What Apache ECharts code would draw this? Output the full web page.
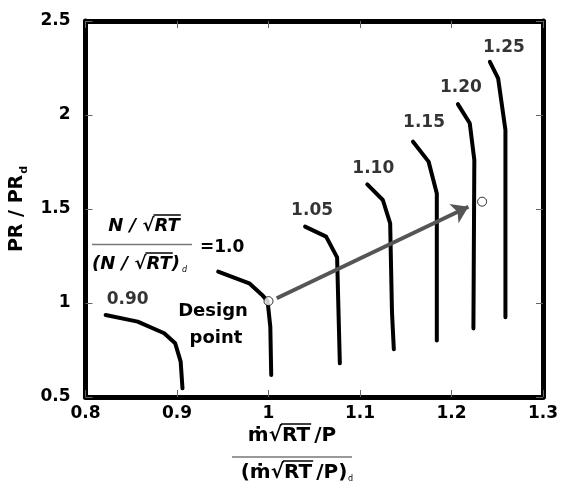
<!DOCTYPE html>
<html>
<head>
<meta charset="utf-8">
<script src="https://cdn.jsdelivr.net/npm/echarts@6/dist/echarts.min.js"></script>
<style>
  html, body { margin: 0; padding: 0; background: #fff; }
  #main { width: 561px; height: 494px; }
</style>
</head>
<body>
<div id="main"></div>
<script>
// compressor map: corrected speed lines
var FONT = '"DejaVu Sans", sans-serif';

var speedNames = ['0.90', '1.0', '1.05', '1.10', '1.15', '1.20', '1.25'];

var speed090X = [0.822, 0.857, 0.886, 0.898, 0.904, 0.906];
var speed090Y = [0.936, 0.901, 0.839, 0.786, 0.688, 0.546];
var speed100X = [0.945, 0.979, 0.993, 0.999, 1.002, 1.003];
var speed100Y = [1.167, 1.105, 1.043, 1.010, 0.874, 0.617];
var speed105X = [1.040, 1.063, 1.075, 1.078];
var speed105Y = [1.406, 1.353, 1.243, 0.679];
var speed110X = [1.108, 1.125, 1.133, 1.135, 1.137];
var speed110Y = [1.631, 1.548, 1.424, 0.950, 0.754];
var speed115X = [1.158, 1.175, 1.184, 1.184];
var speed115Y = [1.858, 1.752, 1.583, 0.800];
var speed120X = [1.207, 1.220, 1.225, 1.224];
var speed120Y = [2.058, 1.956, 1.761, 0.865];
var speed125X = [1.242, 1.251, 1.259, 1.259];
var speed125Y = [2.283, 2.195, 1.920, 0.924];

var designPoint = [1.0, 1.01];
var newPoint = [1.2335, 1.539];
var arrowFrom = [1.009, 1.025];
var arrowTo = [1.2185, 1.512];

var xTicks = [0.8, 0.9, 1, 1.1, 1.2, 1.3];
var yTicks = [0.5, 1, 1.5, 2, 2.5];

var curvesX = [speed090X, speed100X, speed105X, speed110X, speed115X, speed120X, speed125X];
var curvesY = [speed090Y, speed100Y, speed105Y, speed110Y, speed115Y, speed120Y, speed125Y];
// label offset (px) from the top end of each line; 1.0 gets the formula instead
var labelOffsets = [[22, -15], null, [7, -16], [6, -16], [11, -19], [3, -17], [14, -14]];

var myChart = echarts.init(document.getElementById('main'));

var seriesArr = [];
curvesX.forEach(function (xs, i) {
  seriesArr.push({
    name: speedNames[i],
    type: 'line',
    data: xs.map(function (x, j) { return [x, curvesY[i][j]]; }),
    showSymbol: false,
    symbol: 'none',
    lineStyle: { color: '#000', width: 4, cap: 'round', join: 'round' },
    silent: true,
    z: 3
  });
});

var labelData = [];
curvesX.forEach(function (xs, i) {
  if (!labelOffsets[i]) return;
  labelData.push({
    value: [xs[0], curvesY[i][0]],
    label: {
      show: true, position: 'inside', offset: labelOffsets[i],
      formatter: speedNames[i],
      color: '#000', textBorderWidth: 0,
      fontFamily: FONT, fontWeight: 'bold', fontSize: 17
    }
  });
});
seriesArr.push({ type: 'scatter', symbolSize: 0, data: labelData, silent: true, z: 4 });

seriesArr.push({
  type: 'lines',
  coordinateSystem: 'cartesian2d',
  data: [{ coords: [arrowFrom, arrowTo] }],
  symbol: ['none', 'arrow'],
  symbolSize: [0, 16],
  lineStyle: { color: '#555', width: 4, opacity: 1 },
  silent: true,
  z: 5
});

seriesArr.push({
  type: 'scatter',
  data: [designPoint, newPoint],
  symbol: 'circle',
  symbolSize: 9,
  itemStyle: { color: '#fff', borderColor: '#000', borderWidth: 1 },
  silent: true,
  z: 6
});

// text width helper for placing the radical bars
var ctx = document.createElement('canvas').getContext('2d');
function textW(s, font) { ctx.font = font; return ctx.measureText(s).width; }

// centered fraction term: draws text and the bar over the radicand
function radicalText(cx, cy, before, rad, after, font, barDy) {
  var w = textW(before + rad + after, font);
  var x0 = cx - w / 2;
  var xa = x0 + textW(before, font);
  var xb = x0 + textW(before + rad, font);
  return [
    { type: 'text', x: x0, y: cy, style: { text: before + rad + after, font: font, fill: '#000', textAlign: 'left', textVerticalAlign: 'middle' } },
    { type: 'line', shape: { x1: xa - 1, y1: cy - barDy, x2: xb + 1, y2: cy - barDy }, style: { stroke: '#000', lineWidth: 1.5 } }
  ];
}

var fN = 'italic bold 18px ' + FONT;
var fM = 'bold 20px ' + FONT;
var gfx = [];
// speed line 1.0 label: (N/sqrt(RT)) / (N/sqrt(RT))_d = 1.0
gfx = gfx.concat(radicalText(144, 226, 'N / \u221A', 'RT', '', fN, 11));
gfx.push({ type: 'line', shape: { x1: 92, y1: 244.5, x2: 192, y2: 244.5 }, style: { stroke: '#777', lineWidth: 1.5 } });
gfx = gfx.concat(radicalText(136, 264, '(N / \u221A', 'RT', ')', fN, 11));
gfx.push({ type: 'text', x: 182, y: 270, style: { text: 'd', font: 'italic 8px ' + FONT, fill: '#000', textAlign: 'left', textVerticalAlign: 'middle' } });
gfx.push({ type: 'text', x: 200, y: 248, style: { text: '=1.0', font: 'bold 17px ' + FONT, fill: '#000', textAlign: 'left', textVerticalAlign: 'middle' } });
// design point note
gfx.push({ type: 'text', x: 213, y: 311, style: { text: 'Design', font: 'bold 18px ' + FONT, fill: '#000', textAlign: 'center', textVerticalAlign: 'middle' } });
gfx.push({ type: 'text', x: 216, y: 338, style: { text: 'point', font: 'bold 18px ' + FONT, fill: '#000', textAlign: 'center', textVerticalAlign: 'middle' } });
// x axis title: (m sqrt(RT)/P) / (m sqrt(RT)/P)_d
gfx = gfx.concat(radicalText(292, 436, '\u1E41\u221A', 'RT', '\u2009/P', fM, 12));
gfx.push({ type: 'line', shape: { x1: 232, y1: 457, x2: 352, y2: 457 }, style: { stroke: '#777', lineWidth: 1.5 } });
gfx = gfx.concat(radicalText(294, 473, '(\u1E41\u221A', 'RT', '\u2009/P)', fM, 12));
gfx.push({ type: 'text', x: 348, y: 479, style: { text: 'd', font: '8px ' + FONT, fill: '#000', textAlign: 'left', textVerticalAlign: 'middle' } });

var tickColor = '#666';

option = {
  backgroundColor: '#fff',
  animation: false,
  grid: { left: 80, right: 15, top: 21, bottom: 97 },
  xAxis: [{
    type: 'value', min: xTicks[0], max: xTicks[xTicks.length - 1], interval: 0.1,
    axisLine: { onZero: false, lineStyle: { color: '#000', width: 5 } },
    axisTick: { inside: true, length: 7, lineStyle: { color: tickColor, width: 1 } },
    axisLabel: { margin: 8, color: '#000', fontFamily: FONT, fontWeight: 'bold', fontSize: 17,
      formatter: function (v) { return String(+v.toFixed(1)); } },
    splitLine: { show: false }
  }, {
    type: 'value', position: 'top', min: xTicks[0], max: xTicks[xTicks.length - 1], interval: 0.1,
    axisLine: { onZero: false, lineStyle: { color: '#000', width: 5 } },
    axisTick: { inside: true, length: 7, lineStyle: { color: tickColor, width: 1 } },
    axisLabel: { show: false }, splitLine: { show: false }
  }],
  yAxis: [{
    type: 'value', min: yTicks[0], max: yTicks[yTicks.length - 1], interval: 0.5,
    name: '{a|PR / PR}{s|d}', nameLocation: 'middle', nameGap: 43, nameRotate: 90,
    nameTextStyle: {
      rich: {
        a: { fontFamily: FONT, fontWeight: 'bold', fontSize: 19, color: '#000', lineHeight: 24 },
        s: { fontFamily: FONT, fontWeight: 'bold', fontSize: 11, color: '#000', lineHeight: 24, verticalAlign: 'bottom', padding: [8, 0, 0, 1] }
      }
    },
    axisLine: { onZero: false, lineStyle: { color: '#000', width: 5 } },
    axisTick: { inside: true, length: 7, lineStyle: { color: tickColor, width: 1 } },
    axisLabel: { margin: 15, color: '#000', fontFamily: FONT, fontWeight: 'bold', fontSize: 17,
      formatter: function (v) { return String(+v.toFixed(1)); } },
    splitLine: { show: false }
  }, {
    type: 'value', position: 'right', min: yTicks[0], max: yTicks[yTicks.length - 1], interval: 0.5,
    axisLine: { onZero: false, lineStyle: { color: '#000', width: 5 } },
    axisTick: { inside: true, length: 7, lineStyle: { color: tickColor, width: 1 } },
    axisLabel: { show: false }, splitLine: { show: false }
  }],
  graphic: gfx,
  series: seriesArr
};

myChart.setOption(option);
</script>
</body>
</html>
